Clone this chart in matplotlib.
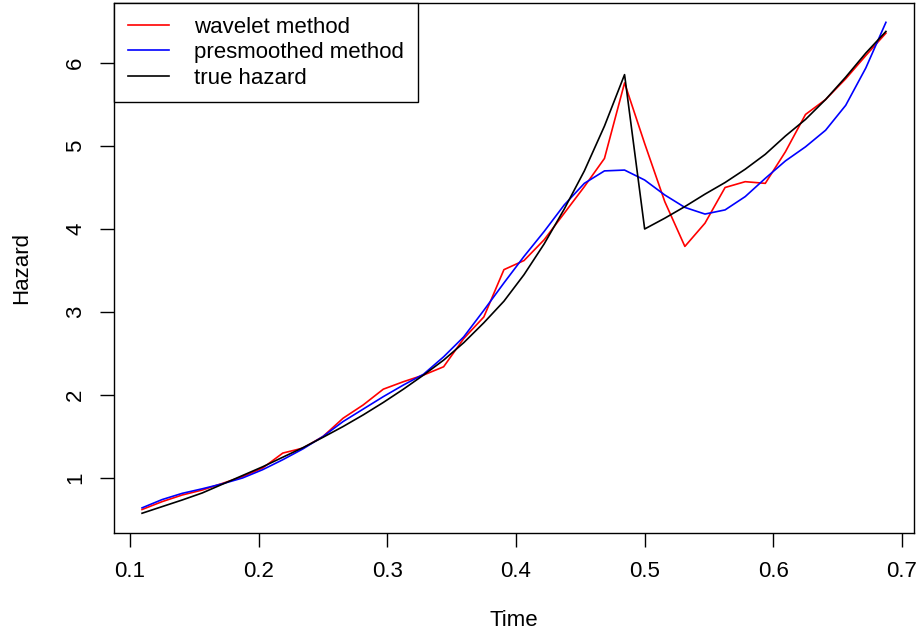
import matplotlib.pyplot as plt

plt.rcParams["font.family"] = ["Liberation Sans", "DejaVu Sans"]

# time grid (k/64, k = 7..44)
time = [k / 64 for k in range(7, 45)]

wavelet = [0.62, 0.715, 0.795, 0.855, 0.935, 1.016, 1.12, 1.30, 1.36, 1.50,
           1.72, 1.88, 2.07, 2.16, 2.24, 2.34, 2.68, 2.94, 3.51, 3.62,
           3.87, 4.19, 4.51, 4.85, 5.76, 5.03, 4.33, 3.79, 4.07, 4.50,
           4.57, 4.55, 4.93, 5.38, 5.56, 5.81, 6.09, 6.36]

presmoothed = [0.64, 0.74, 0.815, 0.87, 0.93, 1.00, 1.10, 1.22, 1.35, 1.50,
               1.68, 1.83, 1.98, 2.12, 2.25, 2.46, 2.70, 3.02, 3.35, 3.67,
               3.97, 4.29, 4.55, 4.70, 4.71, 4.59, 4.41, 4.26, 4.18, 4.23,
               4.39, 4.61, 4.82, 4.99, 5.19, 5.49, 5.94, 6.49]

true_hazard = [0.575, 0.655, 0.735, 0.82, 0.925, 1.03, 1.135, 1.25, 1.365, 1.49,
               1.62, 1.76, 1.91, 2.07, 2.24, 2.42, 2.63, 2.87, 3.13, 3.45,
               3.82, 4.24, 4.70, 5.24, 5.86, 4.00, 4.13, 4.27, 4.42, 4.56,
               4.72, 4.90, 5.12, 5.32, 5.56, 5.83, 6.12, 6.38]

xticks = [0.1, 0.2, 0.3, 0.4, 0.5, 0.6, 0.7]
yticks = [1, 2, 3, 4, 5, 6]

fig = plt.figure(figsize=(9.17, 6.34), dpi=100)
ax = fig.add_axes([114 / 917, 1 - 533 / 634, 800 / 917, 530 / 634])

ax.plot(time, wavelet, color="#FF0000", lw=1.2, label="wavelet method")
ax.plot(time, presmoothed, color="#0000FF", lw=1.2, label="presmoothed method")
ax.plot(time, true_hazard, color="black", lw=1.2, label="true hazard")

ax.set_xlim(0.08757, 0.70933)
ax.set_ylim(0.337, 6.723)
ax.set_xticks(xticks)
ax.set_xticklabels([str(v) for v in xticks])
ax.set_yticks(yticks)
ax.set_yticklabels([str(v) for v in yticks], rotation=90, va="center")

ax.tick_params(axis="both", direction="out", length=10, width=1, labelsize=16)
ax.tick_params(axis="x", pad=10)
ax.tick_params(axis="y", pad=10)
for s in ax.spines.values():
    s.set_linewidth(1)

ax.set_xlabel("Time", fontsize=16, labelpad=20)
ax.set_ylabel("Hazard", fontsize=16, labelpad=24)

leg = ax.legend(loc="upper left", bbox_to_anchor=(0, 0, 304 / 800, 1),
                mode="expand", borderaxespad=0, fontsize=16, fancybox=False,
                framealpha=1, edgecolor="black", handlelength=1.85,
                handletextpad=1.15, labelspacing=0.2, borderpad=0.62)
leg.get_frame().set_linewidth(1)

fig.savefig("out.png", dpi=100)
